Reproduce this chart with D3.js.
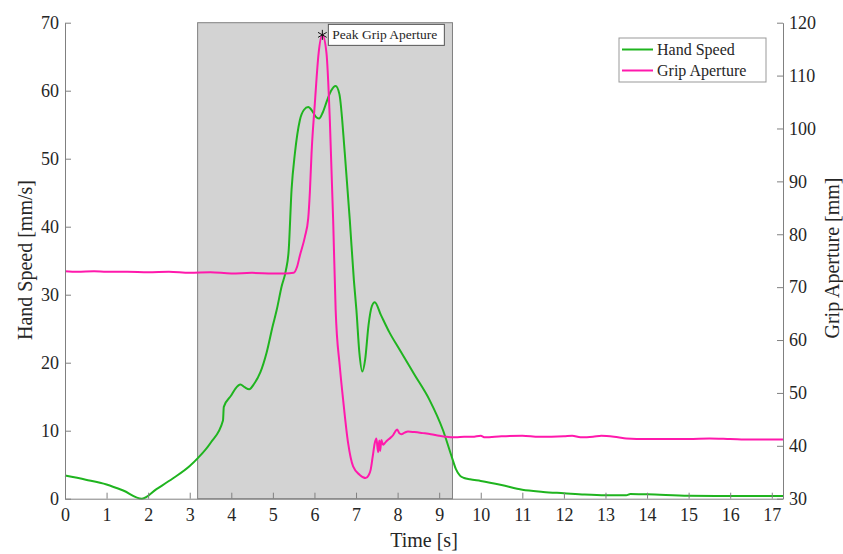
<!DOCTYPE html>
<html>
<head>
<meta charset="utf-8">
<script src="https://cdn.jsdelivr.net/npm/d3@7"></script>
<style>
  body { margin: 0; background: #fff; }
  svg text { font-family: "Liberation Serif", "DejaVu Serif", serif; fill: #262626; }
</style>
</head>
<body>
<div id="chart"></div>
<script>
// hand speed [mm/s] over time [s]
var speedT = [0, 0.5, 1.0, 1.4, 1.85, 2.2, 2.6, 3.0, 3.2, 3.5, 3.8, 3.82, 4.0, 4.1, 4.22, 4.32, 4.43, 4.55, 4.7, 4.85, 5.0, 5.09, 5.21, 5.31, 5.38, 5.45, 5.53, 5.65, 5.75, 5.85, 5.95, 6.03, 6.11, 6.2, 6.3, 6.4, 6.51, 6.6, 6.73, 6.85, 6.95, 7.01, 7.08, 7.15, 7.22, 7.3, 7.38, 7.45, 7.6, 7.8, 8.05, 8.4, 8.77, 9.09, 9.3, 9.4, 9.5, 9.6, 9.74, 10, 10.5, 11, 11.5, 12, 12.5, 13, 13.5, 13.6, 14, 15, 16, 17.27];
var speedV = [3.4, 2.8, 2.1, 1.2, 0, 1.4, 3.0, 4.8, 6.0, 8.2, 11.5, 13.5, 15.2, 16.2, 16.8, 16.4, 16.1, 16.9, 18.6, 21.5, 25.5, 27.7, 31.2, 33.5, 36.5, 45.5, 50.8, 55.7, 57.2, 57.6, 57.0, 56.2, 55.9, 56.8, 58.5, 60.0, 60.7, 59.5, 50.8, 41.0, 32.0, 27.7, 21.5, 18.7, 20.5, 25.5, 28.3, 28.9, 27.0, 24.5, 21.9, 18.3, 14.5, 10.1, 6.2, 4.4, 3.4, 3.05, 2.85, 2.6, 2.0, 1.3, 1.0, 0.8, 0.6, 0.5, 0.5, 0.7, 0.65, 0.45, 0.4, 0.4];

// grip aperture [mm] over time [s]
var gripT = [0, 0.3, 0.7, 1.0, 1.5, 2.0, 2.5, 3.0, 3.5, 4.0, 4.5, 5.0, 5.3, 5.5, 5.58, 5.65, 5.77, 5.85, 5.89, 5.93, 6.01, 6.1, 6.19, 6.29, 6.37, 6.45, 6.51, 6.61, 6.69, 6.81, 6.93, 7.09, 7.23, 7.3, 7.35, 7.4, 7.45, 7.49, 7.53, 7.56, 7.58, 7.61, 7.65, 7.69, 7.75, 7.81, 7.89, 7.95, 7.99, 8.04, 8.09, 8.17, 8.25, 8.4, 8.61, 8.8, 9.0, 9.17, 9.4, 9.6, 9.8, 10.0, 10.1, 10.5, 11.0, 11.4, 12.0, 12.2, 12.4, 12.7, 12.9, 13.3, 13.5, 14, 15, 15.5, 16, 16.5, 17.27];
var gripV = [73.0, 72.9, 73.0, 72.9, 72.9, 72.8, 72.9, 72.7, 72.8, 72.6, 72.7, 72.6, 72.6, 72.7, 73.8, 76.0, 79.5, 83.0, 88.0, 95.3, 104.8, 114.2, 117.7, 114.2, 101.6, 82.7, 65.7, 55.0, 48.7, 40.5, 36.1, 34.5, 33.9, 34.4, 35.4, 37.9, 40.5, 41.4, 38.8, 41.0, 39.0, 41.1, 40.2, 40.5, 41.0, 41.4, 42.0, 42.8, 43.1, 42.4, 42.2, 42.5, 42.7, 42.6, 42.4, 42.2, 41.9, 41.7, 41.6, 41.7, 41.7, 41.9, 41.6, 41.8, 41.9, 41.7, 41.8, 41.9, 41.6, 41.7, 41.9, 41.6, 41.4, 41.3, 41.3, 41.4, 41.3, 41.2, 41.2];

var shadeT = [3.19, 9.32];
var peakT = 6.19, peakV = 117.7;
var xTicks = d3.range(0, 18);
var leftTicks = d3.range(0, 71, 10);
var rightTicks = d3.range(30, 121, 10);

var green = "#1fb41f", pink = "#ff19ac", axisCol = "#808080";

var svg = d3.select("#chart").append("svg")
    .attr("width", 843)
    .attr("height", 554);

var x = d3.scaleLinear().domain([0, 17.27]).range([65, 783]);
var yL = d3.scaleLinear().domain([0, 70]).range([498.7, 22.7]);
var yR = d3.scaleLinear().domain([30, 120]).range([498.7, 22.7]);

// shaded interval
svg.append("rect")
    .attr("x", x(shadeT[0]))
    .attr("y", yL(70))
    .attr("width", x(shadeT[1]) - x(shadeT[0]))
    .attr("height", yL(0) - yL(70))
    .attr("fill", "#d3d3d3")
    .attr("stroke", axisCol)
    .attr("stroke-width", 1);

var speedLine = d3.line()
    .x(function (d, i) { return x(speedT[i]); })
    .y(function (d) { return yL(d); })
    .curve(d3.curveMonotoneX);

var gripLine = d3.line()
    .x(function (d, i) { return x(gripT[i]); })
    .y(function (d) { return yR(d); })
    .curve(d3.curveMonotoneX);

svg.append("path")
    .attr("d", speedLine(speedV))
    .attr("fill", "none")
    .attr("stroke", green)
    .attr("stroke-width", 2);

svg.append("path")
    .attr("d", gripLine(gripV))
    .attr("fill", "none")
    .attr("stroke", pink)
    .attr("stroke-width", 2);

// axes (ticks pointing inward)
function styleAxis(g) {
    g.selectAll(".domain").attr("stroke", axisCol).attr("stroke-width", 1);
    g.selectAll(".tick line").attr("stroke", axisCol);
    g.selectAll(".tick text")
        .attr("font-family", "Liberation Serif, serif")
        .attr("font-size", "18px")
        .attr("fill", "#262626");
}

svg.append("g")
    .attr("transform", "translate(0," + yL(0) + ")")
    .call(d3.axisBottom(x).tickValues(xTicks).tickSizeInner(-6).tickSizeOuter(0).tickPadding(10))
    .call(styleAxis);

svg.append("g")
    .attr("transform", "translate(" + x(0) + ",0)")
    .call(d3.axisLeft(yL).tickValues(leftTicks).tickSizeInner(-6).tickSizeOuter(0).tickPadding(6))
    .call(styleAxis);

svg.append("g")
    .attr("transform", "translate(" + x(17.27) + ",0)")
    .call(d3.axisRight(yR).tickValues(rightTicks).tickSizeInner(-6).tickSizeOuter(0).tickPadding(6))
    .call(styleAxis);

// axis titles
svg.append("text")
    .attr("x", 424)
    .attr("y", 547)
    .attr("text-anchor", "middle")
    .attr("font-size", "20px")
    .text("Time [s]");

svg.append("text")
    .attr("transform", "translate(32,260) rotate(-90)")
    .attr("text-anchor", "middle")
    .attr("font-size", "20px")
    .text("Hand Speed [mm/s]");

svg.append("text")
    .attr("transform", "translate(839,258) rotate(-90)")
    .attr("text-anchor", "middle")
    .attr("font-size", "20px")
    .text("Grip Aperture [mm]");

// peak marker and annotation
svg.append("path")
    .attr("transform", "translate(" + x(peakT) + "," + yR(peakV) + ")")
    .attr("d", d3.symbol().type(d3.symbolAsterisk).size(70)())
    .attr("fill", "none")
    .attr("stroke", "#111")
    .attr("stroke-width", 1);

var px = x(peakT) + 6, py = yR(peakV);
svg.append("rect")
    .attr("x", px)
    .attr("y", py - 10.5)
    .attr("width", 116)
    .attr("height", 21)
    .attr("fill", "#fff")
    .attr("stroke", "#555")
    .attr("stroke-width", 1);

svg.append("text")
    .attr("x", px + 4)
    .attr("y", py + 4.5)
    .attr("font-size", "13.5px")
    .text("Peak Grip Aperture");

// legend
var legend = svg.append("g").attr("transform", "translate(619,38)");
legend.append("rect")
    .attr("width", 147)
    .attr("height", 44)
    .attr("fill", "#fff")
    .attr("stroke", "#999")
    .attr("stroke-width", 1);

var items = [["Hand Speed", green], ["Grip Aperture", pink]];
items.forEach(function (it, i) {
    var yy = 11.5 + i * 21;
    legend.append("line")
        .attr("x1", 3).attr("x2", 34)
        .attr("y1", yy).attr("y2", yy)
        .attr("stroke", it[1])
        .attr("stroke-width", 2);
    legend.append("text")
        .attr("x", 38)
        .attr("y", yy + 5)
        .attr("font-size", "16px")
        .text(it[0]);
});
</script>
</body>
</html>
